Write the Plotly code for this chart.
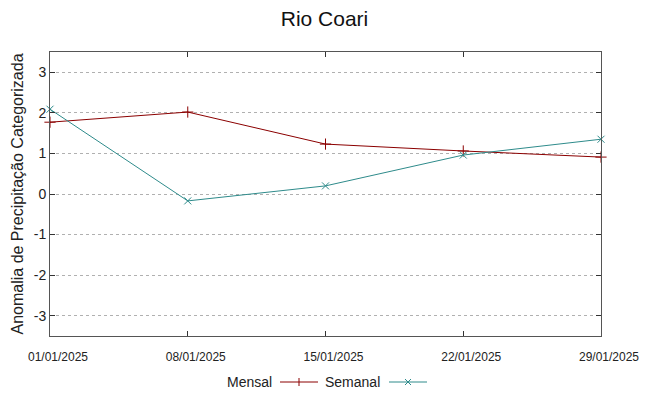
import plotly.graph_objects as go

dates = ["2025-01-01", "2025-01-08", "2025-01-15", "2025-01-22", "2025-01-29"]
tick_labels = ["01/01/2025", "08/01/2025", "15/01/2025", "22/01/2025", "29/01/2025"]
mensal = [1.77, 2.02, 1.23, 1.06, 0.91]
semanal = [2.09, -0.17, 0.20, 0.96, 1.35]
y_ticks = [-3, -2, -1, 0, 1, 2, 3]
y_tick_labels = ["-3", "-2", "-1", "0", "1", "2", "3"]

RED = "#8b0000"
TEAL = "#2e8b8b"

L, R, T, B = 50, 601, 52, 336
W, H = 649, 396


def px(x):
    return (x - L) / (R - L)


def py(y):
    return (B - y) / (B - T)


fig = go.Figure()
fig.add_trace(go.Scatter(x=dates, y=mensal, mode="lines+markers", name="Mensal",
                         line=dict(color=RED, width=1),
                         marker=dict(symbol="cross-thin", size=8, line=dict(color=RED, width=1)),
                         cliponaxis=False, showlegend=False))
fig.add_trace(go.Scatter(x=dates, y=semanal, mode="lines+markers", name="Semanal",
                         line=dict(color=TEAL, width=1),
                         marker=dict(symbol="x-thin", size=7, line=dict(color=TEAL, width=1)),
                         cliponaxis=False, showlegend=False))

# gnuplot-style legend (text then sample), drawn in paper coordinates
shapes = []
ly = 382
for (x0, x1, color, sym) in [(280, 318, RED, "+"), (389, 427, TEAL, "x")]:
    shapes.append(dict(type="line", xref="paper", yref="paper", x0=px(x0), x1=px(x1),
                       y0=py(ly), y1=py(ly), line=dict(color=color, width=1)))
    cx = (x0 + x1) / 2
    if sym == "+":
        shapes.append(dict(type="line", xref="paper", yref="paper", x0=px(cx), x1=px(cx),
                           y0=py(ly - 4), y1=py(ly + 4), line=dict(color=color, width=1)))
    else:
        shapes.append(dict(type="line", xref="paper", yref="paper", x0=px(cx - 3), x1=px(cx + 3),
                           y0=py(ly - 3), y1=py(ly + 3), line=dict(color=color, width=1)))
        shapes.append(dict(type="line", xref="paper", yref="paper", x0=px(cx - 3), x1=px(cx + 3),
                           y0=py(ly + 3), y1=py(ly - 3), line=dict(color=color, width=1)))

fig.update_layout(
    width=W, height=H,
    margin=dict(l=L, r=W - R, t=T, b=H - B, autoexpand=False),
    paper_bgcolor="white", plot_bgcolor="white",
    font=dict(family="Liberation Sans, Arial, sans-serif", color="#222222"),
    title=dict(text="Rio Coari", x=0.5, xanchor="center", y=1 - 19 / H, yanchor="middle",
               font=dict(size=21, color="#111111"), automargin=False),
    xaxis=dict(type="date", range=[dates[0], dates[-1]], tickvals=dates, ticktext=tick_labels,
               tickfont=dict(size=12, family="Liberation Sans, sans-serif"),
               showgrid=False, zeroline=False, showline=True, linecolor="#555555", linewidth=1,
               mirror="ticks", ticks="inside", ticklen=5, tickcolor="#333333",
               ticklabelstandoff=10, ticklabelshift=8, automargin=False),
    yaxis=dict(range=[-3.5, 3.5], tickvals=y_ticks, ticktext=y_tick_labels, tickfont=dict(size=14),
               title=dict(text="Anomalia de Precipitação Categorizada", font=dict(size=16), standoff=6),
               showgrid=True, gridcolor="#b0b0b0", griddash="dot", gridwidth=1,
               zeroline=False, showline=True, linecolor="#555555", linewidth=1,
               mirror="ticks", ticks="inside", ticklen=5, tickcolor="#333333",
               automargin=False),
    shapes=shapes,
    annotations=[
        dict(text="Mensal", xref="paper", yref="paper", x=px(274), y=py(ly), xanchor="right",
             yanchor="middle", showarrow=False, font=dict(size=14, color="#222222")),
        dict(text="Semanal", xref="paper", yref="paper", x=px(382), y=py(ly), xanchor="right",
             yanchor="middle", showarrow=False, font=dict(size=14, color="#222222")),
    ],
)

fig.write_html("out.html", config={"displayModeBar": False},
               post_script="document.body.style.margin='0';")
